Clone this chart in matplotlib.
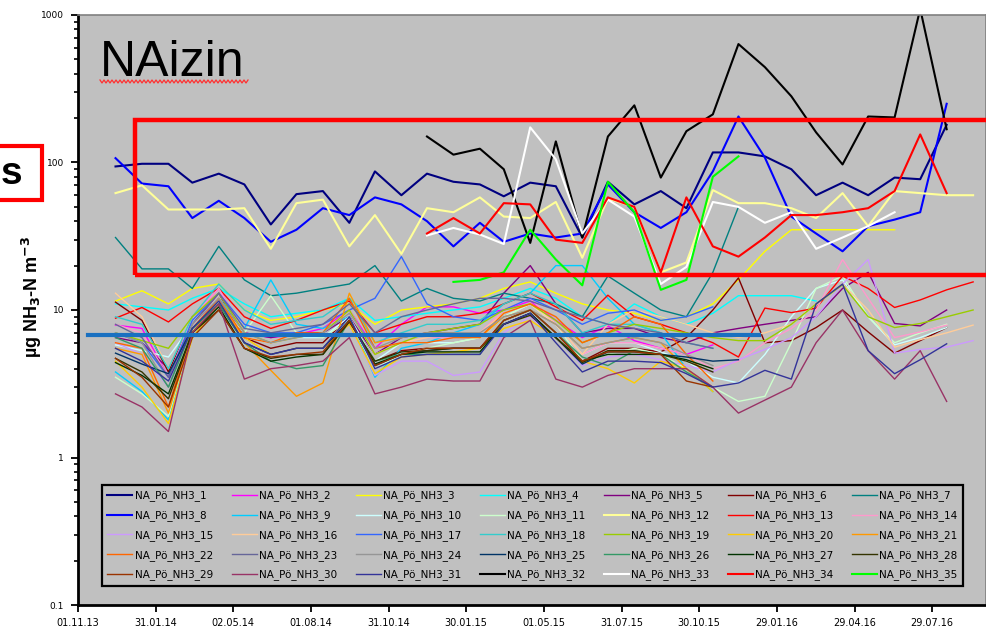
import numpy as np
import pandas as pd
import matplotlib
matplotlib.use("Agg")
import matplotlib.pyplot as plt
from matplotlib.patches import Rectangle
from matplotlib.lines import Line2D

nan = np.nan

# %%
# Monthly sampling dates and axis ticks
dates = pd.date_range("2013-12-01", periods=34, freq="MS") + pd.Timedelta(days=14)
tick_labels = ["01.11.13", "31.01.14", "02.05.14", "01.08.14", "31.10.14", "30.01.15",
               "01.05.15", "31.07.15", "30.10.15", "29.01.16", "29.04.16", "29.07.16"]
y_ticks = [0.1, 1, 10, 100, 1000]
y_tick_labels = ["0.1", "1", "10", "100", "1000"]
threshold = 6.75

# %%
# NH3 concentrations, one list per sampler (µg NH3-N m-3)
na1 = [94, 98, 98, 73, 84, 71, 38, 61, 64, 39,
       87, 60, 84, 74, 71, 59, 73, 69, 31, 74,
       52, 64, 49, 117, 117, 110, 90, 60, 73, 60,
       79, 77, 180, nan]
na2 = [7.9, 7.5, 3.5, 9, 14, 7, 6.5, 6.8, 7.5, 10,
       5.5, 8, 10.5, 10.5, 9.5, 10, 11.5, 8.5, 6.5, 7.8,
       6.2, 5.5, 5.0, 5.8, nan, nan, nan, nan, nan, nan,
       nan, nan, nan, nan]
na3 = [11.5, 13.5, 11, 14, 15, 10, 8.5, 9, 10, 11,
       8, 10, 10.5, 11, 12, 14, 15.5, 13, 11, 10,
       9.5, 8.5, 9, 11, 16, 25, 35, 35, 35, 35,
       35, nan, nan, nan]
na4 = [11, 10.5, 10, 12, 14, 11, 9, 9.5, 10, 12,
       8.5, 9, 9.5, 10, 10.5, 12, 14, 12, 9, 8,
       11, 9, 8, 9.5, 12.5, 12.5, 12.5, 11.5, nan, nan,
       nan, nan, nan, nan]
na5 = [6.5, 6, 4, 8, 13, 7, 6.5, 7, 7, 9,
       5, 6.5, 7, 7.5, 8, 13, 20, 11, 7, 7.5,
       7.5, 6.5, 6, 7, 7.5, 8, 8.5, 9, 14, 18,
       8.1, 7.8, 10, nan]
na6 = [11.3, 8.5, 3.8, 9, 13, 6.5, 5.5, 6, 6, 9,
       4.5, 5.3, 5.5, 5.5, 5.5, 8.5, 10, 7, 4.5, 5.5,
       5.5, 5.2, 6.5, 10, 16.5, 6, 6.2, 7.6, 10, 7.1,
       5.1, 6.2, 7.6, nan]
na7 = [31, 19, 19, 14, 27, 16, 12.5, 13, 14, 15,
       20, 11.5, 14, 12, 11.5, 13, 12, 11, 9, 17,
       13, 10, 9, 18, 50, nan, nan, nan, nan, nan,
       nan, nan, nan, nan]
na8 = [107, 72, 69, 42, 55, 42, 29, 35, 49, 44,
       58, 52, 40, 27, 39, 29, 33, 31, 33, 71,
       46, 36, 46, 87, 205, 108, 43, 33, 25, 37,
       41, 46, 250, nan]
na9 = [3.8, 2.8, 1.8, 7, 12, 7.5, 16, 8, 7.5, 9,
       3.5, 5.5, 6, 7, 8, 11, 13, 20, 20, 12,
       8, 7, 4, 2.8, nan, nan, nan, nan, nan, nan,
       nan, nan, nan, nan]
na10 = [5.8, 5.3, 4.8, 8, 12, 6.5, 6, 6.5, 6.5, 9,
        4.5, 6, 6, 6, 6.5, 9, 11, 8, 5, 6,
        6, 5.2, 4.5, 3.5, 3.2, 5, 9, 14, 16, 9,
        5.8, 6.5, 7.6, nan]
na11 = [3.5, 2.7, 1.9, 7, 11, 7, 12.5, 7, 6.5, 8.5,
        4, 5, 5.5, 6, 6.5, 9, 11, 8, 4.5, 5,
        5.5, 5, 4, 3, 2.4, 2.6, 6, 14, 17, 9,
        6, 7, 8, nan]
na12 = [62, 70, 48, 48, 48, 49, 26, 53, 56, 27,
        44, 24, 49, 46, 58, 43, 42, 54, 22.6, 57,
        50, 18, 21, 65, 53, 53, 49, 42, 62, 37,
        64, 62, 60, 60]
na13 = [8.8, 10.4, 8.3, 11, 14, 9, 7.5, 8.5, 10, 11.5,
        7, 8, 9, 9, 9.5, 11, 13, 10.5, 8.5, 12.6,
        9, 8, 7, 6, 4.8, 10.3, 9.6, 10.3, 17, 14,
        10.4, 11.7, 13.7, 15.5]
na14 = [8, 7, 3.5, 9, 14, 7, 6, 6.5, 7, 10,
        5, 6, 6.5, 6.5, 7, 10, 12, 8, 5, 6,
        6, 5.5, 5, 4, 4.5, 6, 7.5, 10, 22, 12,
        6.5, 7.1, 7.9, nan]
na15 = [6, 5, 3, 8, 12, 6, 5, 5.5, 5.5, 8,
        3.6, 4.5, 4.5, 3.6, 3.8, 7, 9, 6.5, 4.2, 4.8,
        5, 4.6, 4.2, 3.8, 4.6, 5.4, 6.5, 9, 15, 22,
        5.1, 5.4, 5.6, 6.2]
na16 = [13, 9, 4, 9, 13, 7, 6, 6.5, 7, 10,
        5, 6, 6.5, 7, 7, 9.5, 11, 8, 5, 8,
        10, 9, 8, 7, 6.5, 7, 8, 11, 15, 10,
        5.6, 6.3, 7, 7.9]
na17 = [7, 6, 3.5, 8.5, 13, 8, 7, 7, 8, 10,
        12, 23, 11, 9, 8.5, 10, 12, 10, 8, 9.5,
        10, 8.5, 9, 10.5, nan, nan, nan, nan, nan, nan,
        nan, nan, nan, nan]
na18 = [9, 8, 4, 9, 15, 10, 8, 8.5, 9, 12,
        6, 7, 8, 8, 8.5, 11, 13, 11, 7, 8,
        8, 7, 6, 5.5, nan, nan, nan, nan, nan, nan,
        nan, nan, nan, nan]
na19 = [7, 6.2, 5.5, 9, 13, 7, 6, 6.5, 7, 10,
        5, 6, 7, 7.5, 8, 10, 11, 8.5, 6, 7,
        8, 7.5, 7, 6.5, 6.2, 6.2, 8, 11, 14.8, 9,
        7.6, 8.1, 9, 10]
na20 = [4.5, 3, 1.7, 6.5, 11, 6.5, 5, 5.5, 5.5, 8,
        3.7, 4.8, 5, 5.2, 5.5, 7.5, 8.5, 6.5, 4.5, 4,
        3.2, 4.5, 4, 2.8, nan, nan, nan, nan, nan, nan,
        nan, nan, nan, nan]
na21 = [5.5, 5, 2, 7, 12, 6, 3.9, 2.6, 3.2, 13,
        6, 6.5, 7, 7, 6.5, 9, 10, 8, 5.5, 6,
        6.5, 6, 4, 3, nan, nan, nan, nan, nan, nan,
        nan, nan, nan, nan]
na22 = [6, 5.5, 2.2, 7.5, 12, 6.5, 6, 7, 7, 12,
        5.5, 6, 6, 6.5, 6.5, 9.5, 11, 9, 6, 7,
        9, 8, 5, 3.3, nan, nan, nan, nan, nan, nan,
        nan, nan, nan, nan]
na23 = [8, 6.5, 3.5, 8, 13, 7.5, 7, 7.5, 8, 11,
        7, 9, 10, 11, 12, 12, 11.5, 10, 9, 8,
        7.5, 7, 6, 5.5, nan, nan, nan, nan, nan, nan,
        nan, nan, nan, nan]
na24 = [7, 6, 3, 8, 12, 7, 6, 6.5, 7, 9.5,
        5.5, 6.5, 7, 7, 7, 9, 10, 8, 5.5, 6,
        6.5, 6, 5, 4.2, nan, nan, nan, nan, nan, nan,
        nan, nan, nan, nan]
na25 = [5.1, 4.3, 3.7, 7.5, 11, 6, 5, 5.5, 5.5, 8.5,
        4.2, 5, 5.3, 5.5, 5.5, 8, 9.5, 6.5, 4.3, 5.2,
        5.2, 5, 4.8, 4.5, 4.6, nan, nan, nan, nan, nan,
        nan, nan, nan, nan]
na26 = [6.5, 5.5, 3, 7.5, 11, 6, 4.5, 4, 4.2, 8.5,
        4.5, 5, 5, 5, 5, 8.5, 10, 7, 4.8, 4.2,
        5.3, 5, 3.8, 3, nan, nan, nan, nan, nan, nan,
        nan, nan, nan, nan]
na27 = [4.4, 3.6, 2.7, 7, 10.5, 5.5, 4.5, 4.8, 5, 8.5,
        4.3, 5, 5.2, 5.2, 5.2, 8, 9.5, 6.5, 4.5, 5,
        5, 5, 4.6, 4, nan, nan, nan, nan, nan, nan,
        nan, nan, nan, nan]
na28 = [4.7, 3.8, 2.5, 7, 10, 5.5, 4.7, 5, 5, 8.3,
        4.5, 5.2, 5.3, 5.5, 5.5, 8, 9.2, 6.5, 4.4, 5.3,
        5.3, 5, 4.5, 3.8, nan, nan, nan, nan, nan, nan,
        nan, nan, nan, nan]
na29 = [4.7, 3.5, 2.2, 6.5, 10, 5.5, 4.8, 5, 5.2, 8.5,
        4.2, 5, 5.5, 5.5, 5.5, 8.5, 10, 7, 4.5, 5.2,
        5.2, 5, 3.3, 3.0, nan, nan, nan, nan, nan, nan,
        nan, nan, nan, nan]
na30 = [2.7, 2.2, 1.5, 7, 11, 3.4, 4, 4.2, 4.5, 6.5,
        2.7, 3, 3.4, 3.3, 3.3, 6.5, 8.5, 3.4, 3, 3.6,
        4, 4, 4, 3, 2.0, 2.45, 3, 6, 10, 5.3,
        3.4, 5.3, 2.4, nan]
na31 = [5.5, 4.5, 3.3, 7.5, 11.5, 6, 5, 5.5, 5.5, 9,
        4, 4.8, 5, 5, 5, 8, 9.5, 6, 3.8, 4.5,
        4.5, 4.4, 3.7, 3.0, 3.2, 3.9, 3.4, 11, 15, 5.3,
        3.7, 4.6, 5.9, nan]
na32 = [nan, nan, nan, nan, nan, nan, nan, nan, nan, nan,
        nan, nan, 150, 113, 124, 90, 28.5, 139, 31, 150,
        244, 79, 163, 212, 635, 443, 281, 160, 97, 205,
        202, 1100, 168, nan]
na33 = [nan, nan, nan, nan, nan, nan, nan, nan, nan, nan,
        nan, nan, 32, 36, 32.5, 28, 173, 105, 33, 56,
        43, 15, 19.6, 54, 50, 39, 46, 26, 31, 37,
        46, nan, nan, nan]
na34 = [nan, nan, nan, nan, nan, nan, nan, nan, nan, nan,
        nan, nan, 33, 42, 33, 53, 52, 30, 28.5, 58,
        50, 18, 58, 27, 23, 31, 44, 44, 46, 49,
        64, 155, 62, nan]
na35 = [nan, nan, nan, nan, nan, nan, nan, nan, nan, nan,
        nan, nan, nan, 15.5, 16, 18, 35, 22, 14.7, 74,
        46, 13.7, 16, 80, 110, nan, nan, nan, nan, nan,
        nan, nan, nan, nan]

series = [na1, na2, na3, na4, na5, na6, na7, na8, na9, na10,
          na11, na12, na13, na14, na15, na16, na17, na18, na19, na20,
          na21, na22, na23, na24, na25, na26, na27, na28, na29, na30,
          na31, na32, na33, na34, na35]
labels = ["NA_Pö_NH3_%d" % (k + 1) for k in range(len(series))]
colors = ["#000080", "#FF00FF", "#FFFF00", "#00FFFF", "#800080", "#800000", "#008080",
          "#0000FF", "#00CCFF", "#CCFFFF", "#CCFFCC", "#FFFF99", "#FF0000", "#FF99CC",
          "#CC99FF", "#FFCC99", "#3366FF", "#33CCCC", "#99CC00", "#FFCC00", "#FF9900",
          "#FF6600", "#666699", "#969696", "#003366", "#339966", "#003300", "#333300",
          "#993300", "#993366", "#333399", "#000000", "#FFFFFF", "#FF0000", "#00FF00"]
thick = {1, 8, 12, 32, 33, 34, 35}

# %%
fig = plt.figure(figsize=(9.87, 6.32), dpi=100)
ax = fig.add_axes([0.079, 0.0427, 0.9199, 0.9336])
ax.set_facecolor("#C0C0C0")

handles = []
for k, (vals, c) in enumerate(zip(series, colors)):
    lw = 1.5 if (k + 1) in thick else 1.0
    (h,) = ax.plot(dates, vals, color=c, lw=lw, label=labels[k])
    handles.append(h)

ax.set_yscale("log")
ax.set_ylim(0.1, 1000)
ax.set_yticks(y_ticks)
ax.set_yticklabels(y_tick_labels)
ax.set_xlim(pd.Timestamp("2013-11-01"), pd.Timestamp("2016-09-30"))
tick_dates = pd.to_datetime(tick_labels, format="%d.%m.%y")
ax.set_xticks(tick_dates)
ax.set_xticklabels(tick_labels)
ax.tick_params(axis="both", direction="out", width=1.3)
ax.tick_params(axis="x", length=5, pad=4, labelsize=7)
ax.tick_params(axis="y", which="major", length=5, pad=5, labelsize=6.5)
ax.tick_params(axis="y", which="minor", length=3, width=1.2)
ax.xaxis.set_minor_locator(matplotlib.ticker.NullLocator())
for side in ["left", "bottom"]:
    ax.spines[side].set_linewidth(2)
for side in ["top", "right"]:
    ax.spines[side].set_color("#808080")
    ax.spines[side].set_linewidth(1.2)

# threshold line
ax.axhline(threshold, xmin=0.011, xmax=0.75, color="#1A70C0", lw=3, zorder=5)

# Legend, filled row by row like the original
order = [r * 7 + j for j in range(7) for r in range(5)]
leg = ax.legend([handles[i] for i in order], [labels[i] for i in order],
                ncol=7, loc="lower left", mode="expand",
                bbox_to_anchor=(0.021, 0.024, 0.959, 0.176),
                fontsize=7.5, handlelength=2.4, handletextpad=0.2,
                labelspacing=0.85, borderpad=0.5, columnspacing=0.5,
                frameon=True, fancybox=False, facecolor="#C0C0C0",
                edgecolor="black", framealpha=1)
leg.get_frame().set_linewidth(1.6)

# Title and annotations
fig.text(100 / 987, 1 - 76 / 632, "NAizin", fontsize=36, family="Liberation Sans",
         ha="left", va="baseline")
wx = np.arange(100, 250, 2)
wy = np.where(np.arange(len(wx)) % 2 == 0, 80, 83)
fig.add_artist(Line2D(wx / 987, 1 - wy / 632, color="#FF3030", lw=0.9))

fig.add_artist(Rectangle((135 / 987, 1 - 275 / 632), 0.9, 155 / 632, fill=False,
                         edgecolor="#FF0000", lw=3.2, clip_on=False, zorder=10))
fig.add_artist(Rectangle((-0.02, 1 - 200 / 632), 0.0625, 54 / 632, fill=False,
                         edgecolor="#FF0000", lw=3, clip_on=False))
fig.text(1 / 987, 1 - 174 / 632, "s", fontsize=28, fontweight="bold",
         family="Liberation Sans", ha="left", va="center")

fig.text(32 / 987, 1 - 297 / 632, "µg NH$_\\mathbf{3}$-N m$^\\mathbf{-3}$", rotation=90,
         fontsize=13, fontweight="bold", family="Liberation Sans",
         ha="center", va="center")

fig.savefig("out.png", dpi=100)
